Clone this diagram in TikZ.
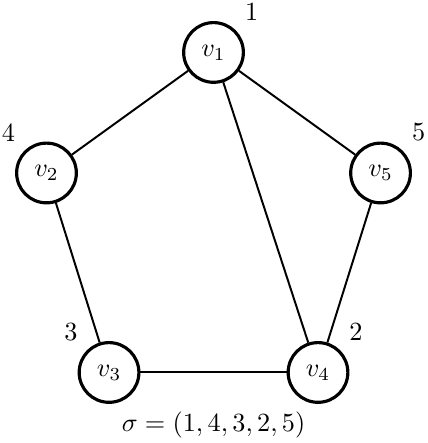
\documentclass[tikz,border=0pt]{standalone}
\usepackage{amsmath}
\usepackage{amssymb}
\usepackage{tikz}
\usetikzlibrary{positioning}
\tikzset{vert/.style = {draw, circle, line width = 1.2pt, minimum size = 0.8cm, inner sep = 0}}
\tikzset{edge/.style = {line width = 0.75pt}}

\begin{document}
\begin{tikzpicture}
          \useasboundingbox (0, 0) rectangle (5.722, 5.936);
          \node [vert, label = above right:1] (v1) at (2.861, 5.233) {$v_1$};
          \node [vert, label = above left:4] (v2) at (0.623, 3.618) {$v_2$};
          \node [vert, label = above left:3] (v3) at (1.461, 0.945) {$v_3$};
          \node [vert, label = above right:2] (v4) at (4.261, 0.945) {$v_4$};
          \node [vert, label = above right:5] (v5) at (5.099, 3.618) {$v_5$};
          \draw [edge] (v1) -- (v2);
          \draw [edge] (v1) -- (v5);
          \draw [edge] (v1) -- (v4);
          \draw [edge] (v2) -- (v3);
          \draw [edge] (v3) -- (v4);
          \draw [edge] (v4) -- (v5);
          \node (perm) at (2.861, 0.24) {$\sigma = (1, 4, 3, 2, 5)$};
        \end{tikzpicture}
\end{document}
